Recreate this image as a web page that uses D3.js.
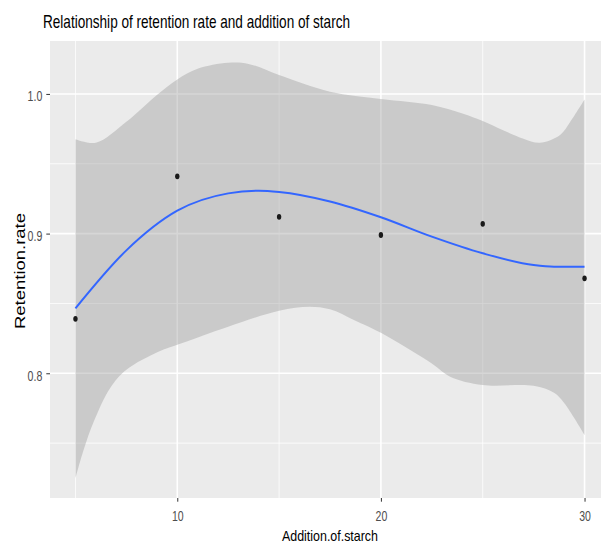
<!DOCTYPE html>
<html>
<head>
<meta charset="utf-8">
<script src="https://cdn.jsdelivr.net/npm/d3@7"></script>
<style>
  body { margin: 0; background: #fff; }
  svg { display: block; font-family: "Liberation Sans", Arial, sans-serif; }
</style>
</head>
<body>
<div id="chart"></div>
<script>
// observed points
const starch = [5, 10, 15, 20, 25, 30];
const retention = [0.839, 0.941, 0.912, 0.899, 0.907, 0.868];

// loess fit
const fitX = [5, 7.5, 10, 12.5, 14, 15, 17.5, 20, 22.5, 25, 27.5, 28.5, 30];
const fitY = [0.8465, 0.888, 0.9164, 0.9288, 0.9307, 0.9298, 0.923, 0.9117, 0.8978, 0.8859, 0.8775, 0.8763, 0.8763];

// confidence band, upper and lower edges
const upperX = [5, 6, 7.5, 9, 10, 11, 12.5, 13.5, 15, 17.5, 20, 22.5, 24, 25, 26, 27, 27.8, 28.8, 29.3, 30];
const upperY = [0.9675, 0.965, 0.980, 0.9992, 1.0104, 1.018, 1.0223, 1.0215, 1.0135, 1.0016, 0.9964, 0.9921, 0.986, 0.9806, 0.974, 0.968, 0.965, 0.9706, 0.980, 0.996];
const lowerX = [5, 5.4, 5.9, 6.7, 7.5, 9.1, 10, 12.5, 15, 16.5, 17.5, 18.7, 20, 22.5, 23.4, 25, 27.5, 28.5, 29, 30];
const lowerY = [0.7248, 0.745, 0.7654, 0.7893, 0.8025, 0.8156, 0.8204, 0.8334, 0.8448, 0.8477, 0.8458, 0.838, 0.829, 0.807, 0.7976, 0.7916, 0.791, 0.786, 0.7787, 0.7558];

const xTicks = [10, 20, 30];
const xMinor = [5, 15, 25];
const yTicks = [0.8, 0.9, 1.0];
const yMinor = [0.75, 0.85, 0.95];

const W = 601, H = 544;
const panel = {left: 50, top: 41, right: 610, bottom: 498};

const svg = d3.select("#chart").append("svg")
    .attr("width", W)
    .attr("height", H);

const x = d3.scaleLinear().domain([3.75, 31.25]).range([panel.left, panel.right]);
const y = d3.scaleLinear().domain([0.7107, 1.0379]).range([panel.bottom, panel.top]);

// panel background
svg.append("rect")
    .attr("x", panel.left).attr("y", panel.top)
    .attr("width", panel.right - panel.left)
    .attr("height", panel.bottom - panel.top)
    .attr("fill", "#EBEBEB");

// grid lines
const grid = svg.append("g");
grid.selectAll(".ymin").data(yMinor).enter().append("line")
    .attr("x1", panel.left).attr("x2", panel.right)
    .attr("y1", d => y(d)).attr("y2", d => y(d))
    .attr("stroke", "#fff").attr("stroke-width", 0.8);
grid.selectAll(".xmin").data(xMinor).enter().append("line")
    .attr("y1", panel.top).attr("y2", panel.bottom)
    .attr("x1", d => x(d)).attr("x2", d => x(d))
    .attr("stroke", "#fff").attr("stroke-width", 0.8);
grid.selectAll(".ymaj").data(yTicks).enter().append("line")
    .attr("x1", panel.left).attr("x2", panel.right)
    .attr("y1", d => y(d)).attr("y2", d => y(d))
    .attr("stroke", "#fff").attr("stroke-width", 1.6);
grid.selectAll(".xmaj").data(xTicks).enter().append("line")
    .attr("y1", panel.top).attr("y2", panel.bottom)
    .attr("x1", d => x(d)).attr("x2", d => x(d))
    .attr("stroke", "#fff").attr("stroke-width", 1.6);

// confidence band
const edge = d3.line()
    .x(d => x(d[0]))
    .y(d => y(d[1]))
    .curve(d3.curveCatmullRom.alpha(0.5));
const upper = upperX.map((v, i) => [v, upperY[i]]);
const lower = lowerX.map((v, i) => [v, lowerY[i]]).reverse();
svg.append("path")
    .attr("d", edge(upper) + "L" + edge(lower).slice(1) + "Z")
    .attr("fill", "#999999")
    .attr("fill-opacity", 0.4);

// smooth line
svg.append("path")
    .datum(fitX.map((v, i) => [v, fitY[i]]))
    .attr("d", d3.line().x(d => x(d[0])).y(d => y(d[1])).curve(d3.curveMonotoneX))
    .attr("fill", "none")
    .attr("stroke", "#3366FF")
    .attr("stroke-width", 2);

// points
svg.selectAll(".pt")
    .data(starch.map((v, i) => [v, retention[i]]))
    .enter().append("ellipse")
    .attr("cx", d => x(d[0]))
    .attr("cy", d => y(d[1]))
    .attr("rx", 2.2)
    .attr("ry", 2.9)
    .attr("fill", "#1a1a1a");

// axes
const yAxis = svg.append("g")
    .attr("transform", "translate(" + panel.left + ",0)")
    .call(d3.axisLeft(y).tickValues(yTicks).tickFormat(d3.format(".1f")).tickSize(3.7).tickPadding(4));
yAxis.select(".domain").remove();
yAxis.selectAll(".tick line").attr("stroke", "#333");
yAxis.selectAll(".tick text")
    .attr("fill", "#4D4D4D")
    .attr("font-size", 15)
    .attr("font-family", "Liberation Sans, Arial, sans-serif")
    .attr("dy", "0.46em")
    .attr("textLength", 14.7)
    .attr("lengthAdjust", "spacingAndGlyphs");

const xAxis = svg.append("g")
    .attr("transform", "translate(0," + panel.bottom + ")")
    .call(d3.axisBottom(x).tickValues(xTicks).tickSize(3.7).tickPadding(9));
xAxis.select(".domain").remove();
xAxis.selectAll(".tick line").attr("stroke", "#333");
xAxis.selectAll(".tick text")
    .attr("fill", "#4D4D4D")
    .attr("font-size", 15)
    .attr("font-family", "Liberation Sans, Arial, sans-serif")
    .attr("textLength", 11.7)
    .attr("lengthAdjust", "spacingAndGlyphs");

// titles
svg.append("text")
    .attr("x", 43).attr("y", 28)
    .attr("font-size", 18.5)
    .attr("fill", "#000")
    .attr("textLength", 307)
    .attr("lengthAdjust", "spacingAndGlyphs")
    .text("Relationship of retention rate and addition of starch");

svg.append("text")
    .attr("x", 330).attr("y", 541)
    .attr("text-anchor", "middle")
    .attr("font-size", 15)
    .attr("fill", "#000")
    .attr("textLength", 96)
    .attr("lengthAdjust", "spacingAndGlyphs")
    .text("Addition.of.starch");

svg.append("text")
    .attr("transform", "translate(25,271) rotate(-90)")
    .attr("text-anchor", "middle")
    .attr("font-size", 14)
    .attr("fill", "#000")
    .attr("textLength", 116)
    .attr("lengthAdjust", "spacingAndGlyphs")
    .text("Retention.rate");
</script>
</body>
</html>
